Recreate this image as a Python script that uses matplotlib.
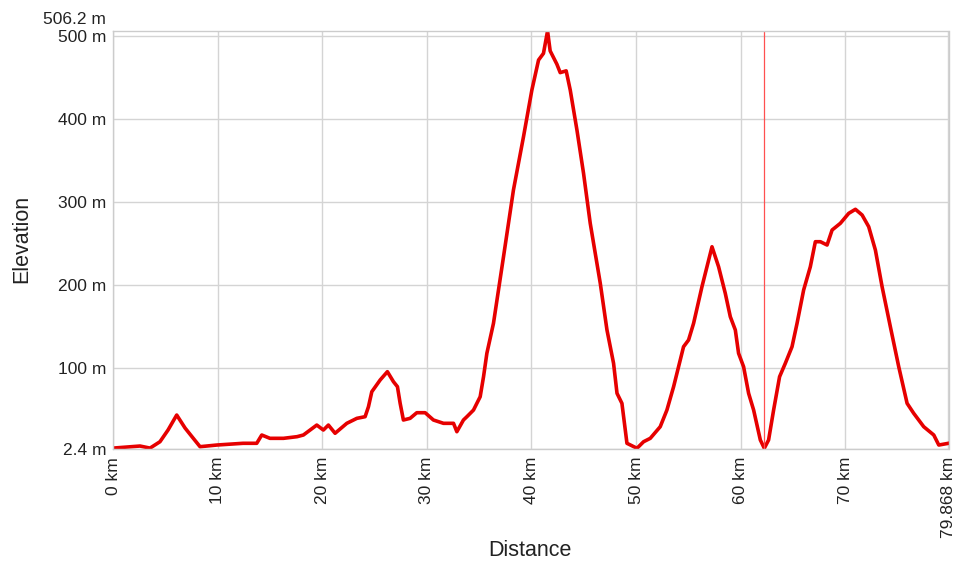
import numpy as np
import matplotlib.pyplot as plt

plt.rcParams['font.family'] = ['Liberation Sans', 'DejaVu Sans']

# elevation profile (distance in km, elevation in m)
dist_km = [
    0.0, 2.58, 3.54, 4.49, 5.26, 6.09, 6.89, 7.65, 8.32, 9.92,
    12.43, 13.74, 14.22, 15.0, 16.3, 17.6, 18.2, 18.84, 19.48, 20.11,
    20.59, 21.23, 22.35, 23.31, 24.1, 24.42, 24.74, 25.54, 26.23, 26.81,
    27.19, 27.45, 27.76, 28.4, 29.04, 29.84, 30.63, 31.59, 32.55, 32.87,
    33.5, 33.83, 34.46, 35.1, 35.42, 35.74, 36.37, 37.33, 38.28, 39.24,
    40.04, 40.68, 41.15, 41.54, 41.79, 42.43, 42.75, 43.32, 43.71, 44.35,
    44.98, 45.62, 46.26, 46.58, 47.22, 47.85, 48.18, 48.65, 49.13, 50.09,
    50.72, 51.36, 52.31, 52.95, 53.59, 54.54, 55.02, 55.5, 56.3, 57.26,
    57.89, 58.53, 59.01, 59.49, 59.8, 60.28, 60.76, 61.24, 61.88, 62.26,
    62.67, 63.15, 63.72, 64.27, 64.91, 65.39, 66.02, 66.66, 67.14, 67.62,
    68.26, 68.74, 69.53, 70.33, 70.97, 71.61, 72.24, 72.88, 73.52, 74.31,
    75.11, 75.91, 76.54, 77.5, 78.46, 78.94, 79.868,
]
elev_m = [
    3.0, 5.5, 3.0, 10.7, 24.8, 42.9, 27.2, 15.2, 4.7, 6.7,
    8.8, 8.8, 18.8, 14.8, 14.8, 16.8, 18.8, 24.8, 30.8, 24.8,
    30.8, 20.9, 32.9, 38.9, 40.9, 52.9, 71.0, 85.2, 95.2, 83.1,
    77.1, 57.0, 36.9, 38.9, 45.7, 45.7, 36.9, 32.9, 32.9, 22.8,
    36.9, 40.9, 48.9, 65.0, 89.1, 117.4, 153.5, 233.9, 314.4, 378.6,
    434.9, 471.2, 479.2, 506.2, 482.2, 466.2, 456.0, 458.1, 434.9, 386.7,
    334.5, 274.2, 225.9, 201.8, 145.5, 105.3, 69.1, 57.0, 8.8, 2.8,
    10.7, 14.8, 28.8, 48.9, 77.1, 125.3, 133.4, 153.5, 197.7, 245.9,
    221.8, 189.7, 161.5, 145.5, 117.4, 101.2, 69.1, 48.9, 12.8, 2.8,
    12.8, 48.9, 89.1, 105.3, 125.3, 153.5, 193.7, 221.8, 252.0, 252.0,
    248.0, 266.1, 274.2, 286.2, 291.1, 284.2, 270.1, 241.9, 197.7, 149.4,
    101.2, 57.0, 45.0, 28.8, 18.8, 6.7, 8.8,
]

x_ticks = [0, 10, 20, 30, 40, 50, 60, 70, 79.868]
x_labels = ["0 km", "10 km", "20 km", "30 km", "40 km", "50 km", "60 km", "70 km", "79.868 km"]
y_ticks = [2.4, 100, 200, 300, 400, 500]
y_labels = ["2.4 m", "100 m", "200 m", "300 m", "400 m", "500 m"]
y_min, y_max = 2.4, 506.2
marker_km = 62.26

fig = plt.figure(figsize=(9.68, 5.62), dpi=100)
ax = fig.add_axes([113 / 968, 1 - 448.6 / 562, (948.5 - 113) / 968, (448.6 - 31) / 562])

ax.plot(dist_km, elev_m, color="#e60000", lw=2.6, solid_joinstyle="round")
ax.axvline(marker_km, color="#ff5050", lw=0.9)

ax.set_xlim(0, 79.868)
ax.set_ylim(y_min, y_max)
ax.set_xticks(x_ticks)
ax.set_xticklabels(x_labels, rotation=90, fontsize=12.5, color="#222222")
ax.set_yticks(y_ticks)
ax.set_yticklabels(y_labels, fontsize=12.5, color="#222222")
ax.tick_params(axis="y", length=0, pad=5)
ax.tick_params(axis="x", length=0, pad=6)
ax.grid(True, color="#d4d4d4", lw=1.0)
ax.set_axisbelow(True)
for s in ax.spines.values():
    s.set_color("#cccccc")
    s.set_linewidth(1.0)

# top value label sits above the 500 m label
ax.annotate("506.2 m", xy=(0, y_max), xycoords=("axes fraction", "data"),
            xytext=(-5, 8), textcoords="offset points", ha="right", va="center",
            fontsize=12.5, color="#222222")

fig.text(22 / 968, 1 - 239 / 562, "Elevation", rotation=90, ha="center", va="center",
         fontsize=15.5, color="#222222")
fig.text(530 / 968, 1 - 550 / 562, "Distance", ha="center", va="center",
         fontsize=15.5, color="#222222")

fig.savefig("out.png", dpi=100)
